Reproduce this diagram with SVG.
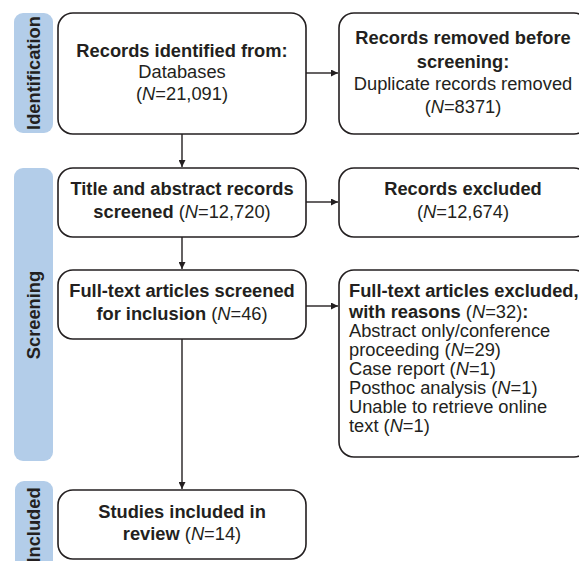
<svg xmlns="http://www.w3.org/2000/svg" width="579" height="561" viewBox="0 0 579 561">
<defs>
<style>
.band{fill:#b3cde9;}
.box{fill:#fff;stroke:#231f20;stroke-width:1.6;}
.lbl{font-family:"Liberation Sans",Arial,sans-serif;font-size:18.3px;font-weight:bold;fill:#231f20;}
.t{font-family:"Liberation Sans",Arial,sans-serif;font-size:18.3px;fill:#231f20;}
.c{text-anchor:middle;}
.b{font-weight:bold;}
.i{font-style:italic;font-weight:normal;}
.con{stroke:#231f20;stroke-width:1.4;fill:none;marker-end:url(#ah);}
</style>
<marker id="ah" viewBox="0 0 10 10" refX="10" refY="5" markerWidth="7" markerHeight="7" markerUnits="userSpaceOnUse" orient="auto">
<path d="M0,0 L10,5 L0,10 z" fill="#231f20"/>
</marker>
</defs>
<rect width="579" height="561" fill="#fff"/>

<g id="band-identification">
<rect class="band" x="14" y="13" width="39" height="120" rx="9"/>
<text class="lbl c" transform="translate(40,73) rotate(-90)">Identification</text>
</g>
<g id="band-screening">
<rect class="band" x="14" y="168" width="39" height="293" rx="9"/>
<text class="lbl c" transform="translate(40,315) rotate(-90)">Screening</text>
</g>
<g id="band-included">
<rect class="band" x="15" y="481" width="38" height="95" rx="9"/>
<text class="lbl c" transform="translate(40,525) rotate(-90)">Included</text>
</g>

<g id="connectors">
<line class="con" x1="182" y1="134" x2="182" y2="167"/>
<line class="con" x1="182" y1="237" x2="182" y2="269"/>
<line class="con" x1="182" y1="339" x2="182" y2="489"/>
<line class="con" x1="306" y1="73" x2="338" y2="73"/>
<line class="con" x1="306" y1="202" x2="338" y2="202"/>
<line class="con" x1="306" y1="306" x2="338" y2="306"/>
</g>

<g id="node-identified">
<rect class="box" x="58" y="13" width="248" height="121" rx="15"/>
<text class="t c" x="182" y="57"><tspan class="b">Records identified from:</tspan><tspan x="182" y="78">Databases</tspan><tspan x="182" y="100">(<tspan class="i">N</tspan>=21,091)</tspan></text>
</g>
<g id="node-removed">
<rect class="box" x="339" y="13" width="250" height="121" rx="15"/>
<text class="t c" x="463" y="44"><tspan class="b">Records removed before</tspan><tspan class="b" x="463" y="68">screening:</tspan><tspan x="463" y="90">Duplicate records removed</tspan><tspan x="463" y="113">(<tspan class="i">N</tspan>=8371)</tspan></text>
</g>
<g id="node-screened">
<rect class="box" x="58" y="168" width="248" height="69" rx="15"/>
<text class="t c" x="182" y="195"><tspan class="b">Title and abstract records</tspan><tspan x="182" y="218"><tspan class="b">screened</tspan> (<tspan class="i">N</tspan>=12,720)</tspan></text>
</g>
<g id="node-excluded">
<rect class="box" x="339" y="168" width="250" height="69" rx="15"/>
<text class="t c" x="463" y="195"><tspan class="b">Records excluded</tspan><tspan x="463" y="218">(<tspan class="i">N</tspan>=12,674)</tspan></text>
</g>
<g id="node-fulltext">
<rect class="box" x="58" y="270" width="248" height="69" rx="15"/>
<text class="t c" x="182" y="297"><tspan class="b">Full-text articles screened</tspan><tspan x="182" y="320"><tspan class="b">for inclusion</tspan> (<tspan class="i">N</tspan>=46)</tspan></text>
</g>
<g id="node-fulltext-excluded">
<rect class="box" x="339" y="270" width="250" height="187" rx="15"/>
<text class="t" x="349" y="297"><tspan class="b">Full-text articles excluded,</tspan><tspan x="349" y="318"><tspan class="b">with reasons</tspan> (<tspan class="i">N</tspan>=32)<tspan class="b">:</tspan></tspan><tspan x="349" y="337">Abstract only/conference</tspan><tspan x="349" y="356">proceeding (<tspan class="i">N</tspan>=29)</tspan><tspan x="349" y="375">Case report (<tspan class="i">N</tspan>=1)</tspan><tspan x="349" y="394">Posthoc analysis (<tspan class="i">N</tspan>=1)</tspan><tspan x="349" y="413">Unable to retrieve online</tspan><tspan x="349" y="432">text (<tspan class="i">N</tspan>=1)</tspan></text>
</g>
<g id="node-included">
<rect class="box" x="58" y="490" width="248" height="69" rx="15"/>
<text class="t c" x="182" y="518"><tspan class="b">Studies included in</tspan><tspan x="182" y="540"><tspan class="b">review</tspan> (<tspan class="i">N</tspan>=14)</tspan></text>
</g>
</svg>
